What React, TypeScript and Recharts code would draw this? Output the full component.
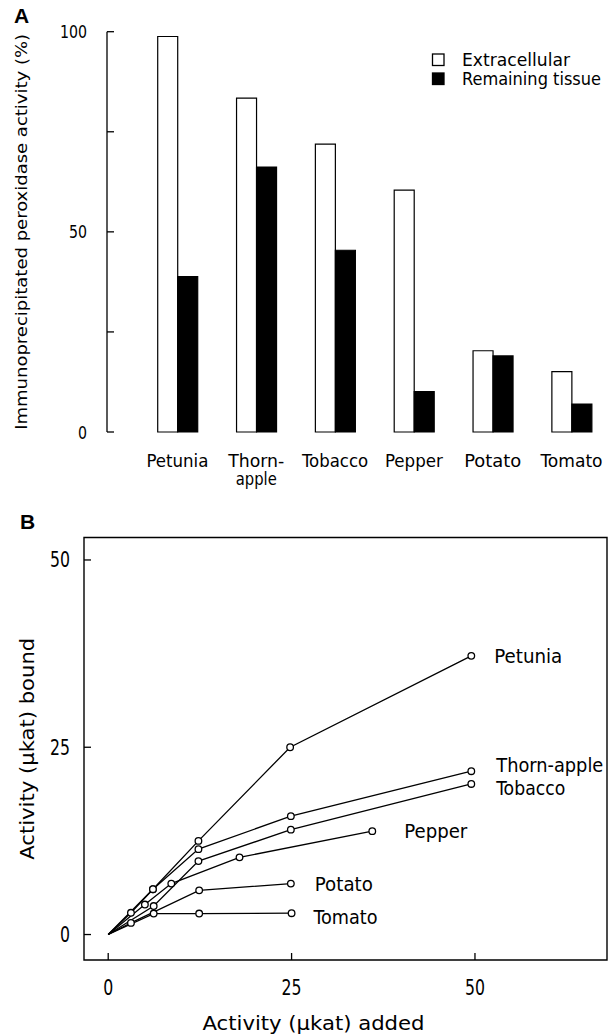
import React from 'react'
import {
  Bar, BarChart, LabelList, Line, LineChart,
  ReferenceArea, XAxis, YAxis,
} from 'recharts'

const FONT = '"DejaVu Sans Condensed", "DejaVu Sans", sans-serif'

// panel A
const species = ['Petunia', 'Thorn-\napple', 'Tobacco', 'Pepper', 'Potato', 'Tomato']
const extracellular = [98.8, 83.4, 71.9, 60.4, 20.3, 15.1]
const remainingTissue = [38.8, 66.2, 45.4, 10.1, 19.0, 7.0]
const percentTicks = [0, 25, 50, 75, 100]
const percentLabels = [0, 50, 100]

// panel B
const petuniaAdded = [0, 3.1, 6.1, 12.3, 24.8, 49.5]
const petuniaBound = [0, 2.9, 6.05, 12.5, 25.0, 37.2]
const thornAdded = [0, 6.1, 12.3, 24.9, 49.5]
const thornBound = [0, 6.05, 11.4, 15.8, 21.8]
const tobaccoAdded = [0, 6.2, 12.3, 24.9, 49.5]
const tobaccoBound = [0, 3.8, 9.8, 14.0, 20.1]
const pepperAdded = [0, 5.0, 8.6, 17.9, 36.0]
const pepperBound = [0, 4.0, 6.8, 10.3, 13.8]
const potatoAdded = [0, 3.1, 12.4, 24.9]
const potatoBound = [0, 1.55, 5.9, 6.8]
const tomatoAdded = [0, 6.2, 12.4, 25.0]
const tomatoBound = [0, 2.8, 2.8, 2.85]
const activityTicks = [0, 25, 50]

const curves = [
  { name: 'Petunia', added: petuniaAdded, bound: petuniaBound },
  { name: 'Thorn-apple', added: thornAdded, bound: thornBound },
  { name: 'Tobacco', added: tobaccoAdded, bound: tobaccoBound },
  { name: 'Pepper', added: pepperAdded, bound: pepperBound },
  { name: 'Potato', added: potatoAdded, bound: potatoBound },
  { name: 'Tomato', added: tomatoAdded, bound: tomatoBound },
]

// where each curve's name sits next to its last point, and how wide it is drawn
const curveLabelStyle: Record<string, { dx: number; dy: number; w: number }> = {
  Petunia: { dx: 23, dy: 0, w: 68 },
  'Thorn-apple': { dx: 25, dy: -6, w: 107 },
  Tobacco: { dx: 25, dy: 4, w: 69 },
  Pepper: { dx: 32, dy: 0, w: 63 },
  Potato: { dx: 24, dy: 0, w: 58 },
  Tomato: { dx: 22, dy: 4, w: 64 },
}

const tickTextWidth: Record<string, number> = {
  Petunia: 62, 'Thorn-': 56, apple: 41, Tobacco: 66, Pepper: 58, Potato: 57, Tomato: 62,
}

const barRows = species.map((name, i) => ({
  name,
  extracellular: extracellular[i],
  remaining: remainingTissue[i],
}))

function FitText({ x, y, width, size, anchor = 'start', children, transform }: any) {
  return (
    <text x={x} y={y} transform={transform} textAnchor={anchor} dominantBaseline="central"
      fontFamily={FONT} fontSize={size} textLength={width} lengthAdjust="spacingAndGlyphs" fill="#000">
      {children}
    </text>
  )
}

function SpeciesTick({ x, y, payload }: any) {
  const lines = String(payload.value).split('\n')
  return (
    <g>
      {lines.map((t, i) => (
        <FitText key={t} x={x} y={y + 29 + i * 18} size={17} anchor="middle" width={tickTextWidth[t]}>{t}</FitText>
      ))}
    </g>
  )
}

function PercentTick({ x, y, payload }: any) {
  const s = String(payload.value)
  return (
    <g>
      <line x1={x} x2={x + 7} y1={y} y2={y} stroke="#000" strokeWidth={1.3} />
      {percentLabels.includes(payload.value) && (
        <FitText x={x - 20} y={y} size={18} anchor="end" width={s.length * 9}>{s}</FitText>
      )}
    </g>
  )
}

function BoundTick({ x, y, payload }: any) {
  const s = String(payload.value)
  return (
    <g>
      <line x1={x} x2={x + 7} y1={y} y2={y} stroke="#000" strokeWidth={1.3} />
      <FitText x={x - 14} y={y} size={22} anchor="end" width={s.length * 10}>{s}</FitText>
    </g>
  )
}

function AddedTick({ x, y, payload }: any) {
  const s = String(payload.value)
  return (
    <g>
      <line x1={x} x2={x} y1={y} y2={y - 7} stroke="#000" strokeWidth={1.3} />
      <FitText x={x} y={y + 27} size={22} anchor="middle" width={s.length * 10}>{s}</FitText>
    </g>
  )
}

function RingDot({ cx, cy, payload, index }: any) {
  if (payload.x === 0) return <g key={`e-${index}`} />
  return <circle key={`d-${index}`} cx={cx} cy={cy} r={3.3} fill="#fff" stroke="#000" strokeWidth={1.3} />
}

function VerticalTitle({ viewBox, value, cx, size, width }: any) {
  const cy = viewBox.y + viewBox.height / 2
  return (
    <FitText x={cx} y={cy} transform={`rotate(-90, ${cx}, ${cy})`} anchor="middle" size={size} width={width}>
      {value}
    </FitText>
  )
}

function PanelLetter({ text, left, top }: { text: string; left: number; top: number }) {
  return (
    <div style={{
      position: 'absolute', left, top, fontFamily: '"Liberation Sans", Arial, sans-serif',
      fontWeight: 700, fontSize: 21, lineHeight: '21px',
    }}>{text}</div>
  )
}

function BarLegend() {
  const rows = [
    { label: 'Extracellular', fill: '#fff', y: 60, w: 108 },
    { label: 'Remaining tissue', fill: '#000', y: 79, w: 139 },
  ]
  return (
    <svg style={{ position: 'absolute', left: 420, top: 40 }} width={193} height={55}>
      {rows.map((r) => (
        <g key={r.label}>
          <rect x={12.5} y={r.y - 40 - 6} width={11.5} height={11.5} fill={r.fill} stroke="#000" strokeWidth={1.3} />
          <FitText x={42} y={r.y - 40} size={17} width={r.w}>{r.label}</FitText>
        </g>
      ))}
    </svg>
  )
}

export default function App() {
  return (
    <div style={{ position: 'absolute', left: 0, top: 0, width: 613, height: 1036, background: '#fff' }}>
      <PanelLetter text="A" left={14} top={5} />
      <div style={{ position: 'absolute', left: 0, top: 0 }}>
        <BarChart width={613} height={500} data={barRows}
          margin={{ top: 31.7, right: 2, bottom: 0, left: 0 }}
          barCategoryGap="25%" barGap={0}>
          <XAxis dataKey="name" axisLine={false} tickLine={false} tickSize={0} tickMargin={0}
            height={68} interval={0} padding={{ left: 31, right: 0 }} tick={<SpeciesTick />} />
          <YAxis domain={[0, 100]} ticks={percentTicks} width={107}
            axisLine={{ stroke: '#000', strokeWidth: 1.3 }} tickLine={false} tickSize={0} tickMargin={0}
            tick={<PercentTick />}
            label={(p: any) => (
              <VerticalTitle {...p} value="Immunoprecipitated peroxidase activity (%)" cx={22} size={15} width={396} />
            )} />
          <Bar dataKey="extracellular" fill="#fff" stroke="#000" strokeWidth={1.2} isAnimationActive={false} />
          <Bar dataKey="remaining" fill="#000" stroke="#000" strokeWidth={1.2} isAnimationActive={false} />
        </BarChart>
      </div>
      <BarLegend />

      <PanelLetter text="B" left={20} top={511} />
      <div style={{ position: 'absolute', left: 0, top: 500 }}>
        <LineChart width={613} height={536} margin={{ top: 37.5, right: 6, bottom: 0, left: 0 }}>
          <XAxis type="number" dataKey="x" domain={[-3.3, 68]} ticks={activityTicks} allowDataOverflow
            axisLine={false} tickLine={false} tickSize={0} tickMargin={0} height={76} tick={<AddedTick />}
            label={(p: any) => (
              <FitText x={p.viewBox.x + p.viewBox.width / 2 - 32} y={p.viewBox.y + 63} anchor="middle"
                size={20} width={222}>
                Activity (μkat) added
              </FitText>
            )} />
          <YAxis type="number" dataKey="y" domain={[-3.4, 53]} ticks={activityTicks} allowDataOverflow
            width={84} axisLine={false} tickLine={false} tickSize={0} tickMargin={0} tick={<BoundTick />}
            label={(p: any) => (
              <VerticalTitle {...p} value="Activity (μkat) bound" cx={27} size={20} width={222} />
            )} />
          <ReferenceArea x1={-3.3} x2={68} y1={-3.4} y2={53} fill="none" stroke="#000" strokeWidth={1.4} />
          {curves.map((c) => (
            <Line key={c.name} data={c.added.map((x, i) => ({ x, y: c.bound[i] }))} dataKey="y"
              type="linear" stroke="#000" strokeWidth={1.3} dot={<RingDot />} activeDot={false}
              isAnimationActive={false}>
              <LabelList dataKey="y" content={(p: any) => {
                if (p.index !== c.added.length - 1) return null
                const st = curveLabelStyle[c.name]
                return <FitText x={p.x + st.dx} y={p.y + st.dy} size={20} width={st.w}>{c.name}</FitText>
              }} />
            </Line>
          ))}
        </LineChart>
      </div>
    </div>
  )
}
